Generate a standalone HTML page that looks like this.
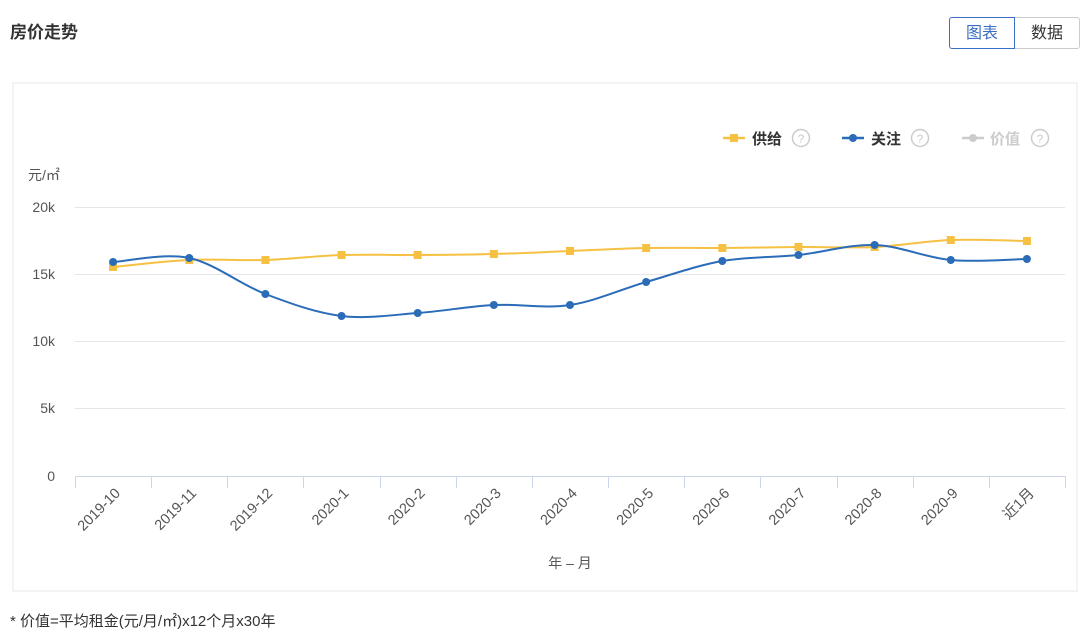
<!DOCTYPE html>
<html><head><meta charset="utf-8"><style>
body{margin:0;width:1080px;height:633px;background:#fff;font-family:"Liberation Sans","Noto Sans CJK SC",sans-serif;position:relative;overflow:hidden}
.t{position:absolute;left:10px;top:18px;font-size:17px;font-weight:bold;color:#333}
.b{position:absolute;top:17px;height:32px;line-height:32px;text-align:center;font-size:16px;box-sizing:border-box}
.card{position:absolute;left:12px;top:82px;width:1066px;height:510px;border:2px solid #f3f3f3;box-sizing:border-box}
.n{position:absolute;left:10px;top:610px;font-size:15px;color:#333}
</style></head><body>
<div class="t">房价走势</div>
<div class="b" style="left:949px;width:66px;border:1.5px solid #3b6fc4;border-radius:3px 0 0 3px;color:#3b6fc4;z-index:2">图表</div>
<div class="b" style="left:1014px;width:66px;border:1px solid #ccc;border-radius:0 3px 3px 0;color:#333">数据</div>
<div class="card"></div>
<svg id="s" width="1080" height="633" style="position:absolute;left:0;top:0" font-family="Liberation Sans, Noto Sans CJK SC, sans-serif">
<g stroke="#e6e6e6" stroke-width="1">
<line x1="75" x2="1065" y1="207.5" y2="207.5"/><line x1="75" x2="1065" y1="274.5" y2="274.5"/><line x1="75" x2="1065" y1="341.5" y2="341.5"/><line x1="75" x2="1065" y1="408.5" y2="408.5"/>
</g>
<line x1="75" x2="1065" y1="476.5" y2="476.5" stroke="#ccd6eb"/>
<g id="ticks" stroke="#ccd6eb"></g>
<g font-size="14" fill="#555" text-anchor="end">
<text x="55" y="212">20k</text><text x="55" y="279">15k</text><text x="55" y="346">10k</text><text x="55" y="413">5k</text><text x="55" y="481">0</text>
</g>
<text x="28" y="180" font-size="14" fill="#555">元/㎡</text>
<g id="xl" font-size="14.5" fill="#555"></g>
<text x="570" y="568" font-size="14" fill="#555" text-anchor="middle">年 – 月</text>
<g font-size="15" font-weight="bold">
<line x1="723" x2="745" y1="138" y2="138" stroke="#f6c142" stroke-width="2.5"/><rect x="730" y="134" width="8" height="8" fill="#f6c142"/>
<text x="752" y="144" fill="#333">供给</text>
<circle cx="801" cy="138" r="8.5" fill="none" stroke="#ccc" stroke-width="1.5"/><text x="801" y="143" font-size="12" fill="#ccc" text-anchor="middle" font-weight="normal">?</text>
<line x1="842" x2="864" y1="138" y2="138" stroke="#2b6cb8" stroke-width="2.5"/><circle cx="853" cy="138" r="4" fill="#2b6cb8"/>
<text x="871" y="144" fill="#333">关注</text>
<circle cx="920" cy="138" r="8.5" fill="none" stroke="#ccc" stroke-width="1.5"/><text x="920" y="143" font-size="12" fill="#ccc" text-anchor="middle" font-weight="normal">?</text>
<line x1="962" x2="984" y1="138" y2="138" stroke="#ccc" stroke-width="2.5"/><circle cx="973" cy="138" r="4" fill="#ccc"/>
<text x="990" y="144" fill="#ccc">价值</text>
<circle cx="1040" cy="138" r="8.5" fill="none" stroke="#ccc" stroke-width="1.5"/><text x="1040" y="143" font-size="12" fill="#ccc" text-anchor="middle" font-weight="normal">?</text>
</g>
<g id="ser"></g>
</svg>
<div class="n">* 价值=平均租金(元/月/㎡)x12个月x30年</div>
<script>
var ns="http://www.w3.org/2000/svg",X=[],labs=["2019-10","2019-11","2019-12","2020-1","2020-2","2020-3","2020-4","2020-5","2020-6","2020-7","2020-8","2020-9","近1月"];
var w=990/13;
for(var i=0;i<=13;i++){var l=document.createElementNS(ns,"line");var x=Math.round(75+i*w)+.5;l.setAttribute("x1",x);l.setAttribute("x2",x);l.setAttribute("y1",476);l.setAttribute("y2",488);document.getElementById("ticks").appendChild(l);}
for(var i=0;i<13;i++){X.push(75+w*(i+.5));var t=document.createElementNS(ns,"text");var cx=X[i]+8,cy=494;t.setAttribute("x",cx);t.setAttribute("y",cy);t.setAttribute("text-anchor","end");t.setAttribute("transform","rotate(-45 "+cx+" "+cy+")");t.textContent=labs[i];document.getElementById("xl").appendChild(t);}
function path(Y){var d="M"+X[0]+","+Y[0];for(var i=0;i<Y.length-1;i++){var p0=i?i-1:i,p3=i+2<Y.length?i+2:i+1;var c1x=X[i]+(X[i+1]-X[p0])/6,c1y=Y[i]+(Y[i+1]-Y[p0])/6,c2x=X[i+1]-(X[p3]-X[i])/6,c2y=Y[i+1]-(Y[p3]-Y[i])/6;d+=" C"+c1x+","+c1y+" "+c2x+","+c2y+" "+X[i+1]+","+Y[i+1];}return d;}
var g=document.getElementById("ser");
var Yy=[267,260,260,255,255,254,251,248,248,247,247,240,241],Yb=[262,258,294,316,313,305,305,282,261,255,245,260,259];
function ser(Y,c,sq){var p=document.createElementNS(ns,"path");p.setAttribute("d",path(Y));p.setAttribute("fill","none");p.setAttribute("stroke",c);p.setAttribute("stroke-width","2");g.appendChild(p);
for(var i=0;i<Y.length;i++){var m;if(sq){m=document.createElementNS(ns,"rect");m.setAttribute("x",X[i]-4);m.setAttribute("y",Y[i]-4);m.setAttribute("width",8);m.setAttribute("height",8);}else{m=document.createElementNS(ns,"circle");m.setAttribute("cx",X[i]);m.setAttribute("cy",Y[i]);m.setAttribute("r",4);}m.setAttribute("fill",c);g.appendChild(m);}}
ser(Yy,"#f6c142",1);ser(Yb,"#2b6cb8",0);
</script>
</body></html>
